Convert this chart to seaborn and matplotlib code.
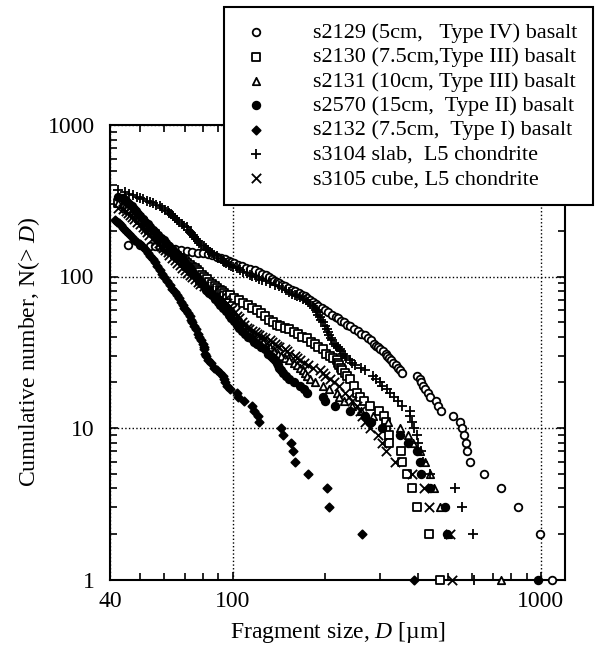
import matplotlib
matplotlib.use("Agg")
import matplotlib.pyplot as plt
import seaborn as sns

# cumulative number N(>D) vs fragment size D [um] as (D, N)
s2129 = [(45.6, 162), (50, 161), (54, 159), (56, 158), (58, 157), (60, 155), (62, 154), (65, 152), (68, 150),
         (71, 148), (74, 146), (77, 144), (80, 143), (83, 140), (86, 138), (89, 135), (92, 132), (94.5, 130),
         (97, 127), (99, 124), (101, 122), (104, 119), (107, 117), (110.5, 114), (114, 112), (118, 110),
         (122, 107), (125, 104), (128, 102), (131, 99), (134, 97), (136.5, 94), (139, 92), (142, 90), (145, 88),
         (148, 86), (151, 84), (155.5, 82), (160, 80), (164, 78), (168, 76), (171.5, 74), (175, 72), (178.5, 70),
         (182, 68), (186, 66), (190, 64), (194.5, 62), (199, 60), (204.5, 58), (210, 56), (216, 54), (220, 53),
         (225, 51), (230, 50), (235, 48), (240, 47), (247, 45), (255, 44), (262, 42), (270, 41), (276, 39),
         (282, 38), (287, 36), (292, 35), (296, 34), (300, 33), (307, 32), (314, 31), (318, 30), (322, 29),
         (327, 28), (331, 27), (338, 26), (345, 25), (350, 24), (356, 23), (396, 22), (405, 21), (410, 20),
         (415, 19), (420, 18), (430, 17), (436, 16), (456, 15), (463, 14), (474, 13), (518, 12), (546, 11),
         (554, 10), (562, 9), (572, 8), (575, 7), (588, 6), (653, 5), (742, 4), (847, 3), (993, 2), (1086, 1)]

s2130 = [(42.5, 305), (44, 300), (45, 293), (45.6, 287), (46.3, 280), (46.9, 273), (47.5, 267), (48.3, 258),
         (49, 250), (49.5, 243), (50, 236), (51, 228), (52, 220), (52.8, 211), (53.7, 203), (54.8, 196),
         (56, 190), (57, 182), (58, 175), (59, 168), (60, 162), (61.2, 156), (62.4, 150), (63.7, 145), (65, 140),
         (66.2, 136), (67.3, 133), (68.6, 129), (70, 126), (71.2, 123), (72.5, 120), (74, 116), (75.5, 113),
         (76.7, 110), (78, 107), (79.5, 103), (81, 100), (82.5, 96), (84, 92), (85.8, 89), (87.5, 87), (89, 84),
         (90.7, 82), (92.4, 80), (94, 78), (96, 76), (97.8, 75), (101, 72), (105, 70), (108.5, 67), (112, 65),
         (116, 62), (120, 60), (123.5, 57), (127, 55), (131, 52), (135, 50), (139, 48), (143, 47), (148, 46),
         (153, 45), (158, 43), (163, 42), (168, 40), (174, 39), (180, 37), (185, 36), (190, 34), (196, 33),
         (201, 31), (207, 30), (212, 29), (218, 28), (220, 27), (222, 26), (224.5, 25), (227, 24), (231, 23),
         (235, 22), (240, 21), (247, 19), (253, 17), (260, 16), (268, 15), (280, 14), (298, 13), (310, 12),
         (314, 11), (316, 10), (321, 9), (323, 8), (351, 7), (356, 6), (368, 5), (381, 4), (396, 3), (433, 2),
         (470, 1)]

s2131 = [(42.5, 305), (44, 300), (44.7, 292), (45.5, 285), (46.2, 276), (47, 268), (47.7, 259), (48.5, 250),
         (49.2, 242), (50, 235), (51, 226), (52, 218), (53, 210), (54, 202), (55, 195), (56, 187), (57.2, 179),
         (58.5, 172), (59.7, 165), (61, 158), (62.2, 152), (63.5, 146), (64.7, 140), (66, 134), (67.5, 128),
         (69, 123), (70.5, 118), (72, 113), (73.5, 108), (75, 104), (76.5, 99), (78, 95), (79.7, 91), (81.5, 88),
         (83.2, 84), (85, 81), (86.5, 77), (88, 74), (90, 71), (92, 68), (94, 65), (96, 62), (98, 59), (100, 57),
         (102, 54), (104, 52), (106.5, 50), (109, 48), (111.5, 46), (114, 44), (117, 42), (120, 40), (123, 38),
         (126, 37), (129, 35), (132, 34), (136, 32), (140, 31), (144, 30), (148, 29), (153, 28), (158, 27),
         (162, 26), (166, 25), (169, 24), (172, 23), (175, 22), (178, 21), (185, 20), (196, 19), (205, 18),
         (218, 17), (222, 16), (230, 15), (245, 14), (262, 13), (285, 12), (320, 11), (349, 10), (370, 9),
         (385, 8), (405, 7), (420, 6), (437, 5), (450, 4), (470, 3), (500, 2), (744, 1)]

s2570 = [(42.5, 335), (44, 330), (44.7, 320), (45.5, 310), (46.2, 300), (47, 290), (47.7, 280), (48.5, 270),
         (49.2, 260), (50, 250), (51, 240), (52, 230), (53, 221), (54, 212), (55, 204), (56, 196), (57.2, 188),
         (58.5, 180), (59.7, 173), (61, 166), (62.2, 159), (63.5, 152), (64.7, 146), (66, 140), (67.5, 134),
         (69, 128), (70.2, 123), (71.5, 118), (72.7, 113), (74, 108), (75.2, 103), (76.5, 99), (78, 94),
         (79.5, 90), (80.7, 86), (82, 82), (84, 78), (86, 75), (87.7, 71), (89.5, 68), (91.2, 65), (93, 62),
         (95, 59), (97, 56), (99, 53), (101, 51), (103, 48), (105, 46), (107.5, 44), (110, 42), (112.5, 40),
         (115, 39), (117.5, 37), (120, 36), (123.5, 34), (127, 33), (130, 31), (133, 30), (135, 29), (137, 28),
         (139, 27), (140, 26), (141, 25), (143.5, 24), (146, 23), (149, 22), (152, 21), (158, 20), (165, 19),
         (170, 18), (175, 17), (196, 16), (199, 15), (215, 14), (240, 13), (270, 12), (282, 11), (305, 10),
         (349, 9), (370, 8), (396, 7), (405, 6), (410, 5), (439, 4), (490, 3), (495, 2), (978, 1)]

s2132 = [(41.5, 235), (42.3, 230), (42.9, 224), (43.5, 218), (44, 210), (44.6, 203), (45.3, 196), (46, 190),
         (47, 182), (48, 175), (49, 169), (50, 163), (51, 157), (52, 151), (53, 144), (54, 137), (55, 131),
         (56, 125), (57, 117), (58, 110), (59, 104), (60, 99), (61.2, 93), (62.5, 88), (63.7, 83), (65, 79),
         (66, 75), (67, 72), (68, 68), (69, 65), (69.7, 62), (70.5, 60), (71.5, 57), (72.5, 55), (73.2, 52),
         (74, 50), (75, 47), (76, 45), (77, 42), (78, 40), (79, 38), (80, 36), (80.5, 34), (81, 33), (81.5, 31),
         (82, 30), (83.5, 28), (85, 27), (87, 25), (89, 24), (91, 23), (93, 22), (93.8, 21), (94.5, 20),
         (96, 19), (98, 18), (103, 17), (104, 16), (109, 15), (116, 14), (117, 13), (121, 12), (122, 11),
         (144, 10), (146, 9), (155, 8), (157, 7), (160, 6), (176, 5), (202, 4), (206, 3), (264, 2), (387, 1)]

s3104 = [(42.5, 370), (44.6, 361), (46, 352), (47.5, 344), (48.8, 337), (50, 330), (51.3, 323), (52.6, 317),
         (53.8, 311), (55, 307), (56.5, 298), (58, 290), (59.2, 282), (60.5, 275), (61.5, 270), (62.4, 264),
         (63.2, 257), (64, 250), (65, 243), (66, 236), (67.2, 229), (68.5, 222), (69.8, 216), (70.9, 211),
         (71.8, 204), (72.5, 198), (73.4, 193), (74.2, 188), (75, 182), (76, 177), (77, 172), (78, 167),
         (79.2, 162), (80.5, 158), (81.8, 154), (83, 150), (84.5, 146), (86, 143), (87.3, 139), (88.7, 136),
         (90, 133), (91.5, 130), (92.8, 127), (94, 125), (95.5, 122), (97, 120), (98.5, 118), (100, 116),
         (103, 113), (106, 110), (108.5, 107), (111, 105), (113.5, 103), (116, 101), (119, 99), (122, 97),
         (125, 95), (128, 93), (132, 90), (137, 88), (141, 86), (145, 84), (149, 81), (153, 79), (156, 77),
         (159, 76), (162, 74), (165, 73), (169, 71), (173, 70), (176, 68), (179, 66), (182, 64), (185, 62),
         (186.5, 60), (188, 58), (190, 56), (192, 54), (194, 52), (196, 50), (199, 47), (202, 45), (204, 43),
         (206, 41), (208.5, 39), (211, 38), (214, 36), (217, 35), (220, 34), (223, 33), (225.5, 32), (228, 31),
         (231, 30), (234, 29), (240, 28), (245, 27), (249, 26), (262, 25), (270, 24), (285, 22), (292, 21),
         (300, 20), (306, 19), (318, 18), (325, 17), (335, 16), (345, 15), (356, 14), (376, 13), (378, 12),
         (382, 11), (388, 10), (396, 9), (400, 8), (408, 7), (415, 6), (436, 5), (526, 4), (555, 3), (603, 2),
         (606, 1)]

s3105 = [(42.5, 285), (44, 280), (45, 270), (45.6, 262), (46.3, 254), (47.1, 246), (48, 238), (49, 230),
         (50, 222), (51, 213), (52, 205), (52.8, 196), (53.7, 188), (55, 180), (56.5, 172), (57.5, 166),
         (58.5, 160), (59.5, 155), (60.5, 150), (61.5, 145), (62.4, 139), (63.7, 133), (65, 128), (66.2, 123),
         (67.5, 119), (68.7, 114), (70, 110), (71.2, 106), (72.5, 103), (74, 99), (75.5, 96), (77, 92),
         (78.5, 89), (81, 86), (84, 82), (86.5, 79), (89, 76), (91.5, 73), (94, 70), (96, 67), (98, 64),
         (99.7, 61), (101.5, 58), (103, 55), (105, 53), (107, 50), (109, 48), (111, 46), (113, 45), (115.5, 44),
         (118, 43), (120, 42), (122, 41), (124.5, 40), (127, 39), (132, 38), (134.5, 37), (137, 36), (139.5, 35),
         (142, 34), (147.5, 33), (150, 32), (153, 31), (159, 30), (162, 29), (165, 28), (171, 27), (176, 26),
         (182, 25), (192, 24), (196, 23), (200, 22), (207, 21), (214, 20), (222, 19), (231, 17), (238, 16),
         (244, 15), (254, 14), (259, 13), (264, 12), (270, 11), (279, 10), (296, 9), (305, 8), (316, 7),
         (336, 6), (381, 5), (417, 4), (433, 3), (507, 2), (514, 1)]

labels = [
    "s2129 (5cm,   Type IV) basalt",
    "s2130 (7.5cm,Type III) basalt",
    "s2131 (10cm, Type III) basalt",
    "s2570 (15cm,  Type II) basalt",
    "s2132 (7.5cm,  Type I) basalt",
    "s3104 slab,  L5 chondrite",
    "s3105 cube, L5 chondrite",
]

sns.set_theme(style="ticks")
plt.rcParams["font.family"] = ["Liberation Serif", "DejaVu Serif"]
plt.rcParams["mathtext.fontset"] = "custom"
plt.rcParams["mathtext.rm"] = "Liberation Serif"
plt.rcParams["mathtext.it"] = "Liberation Serif:italic"
for k in ["text.color", "axes.labelcolor", "xtick.color", "ytick.color", "axes.edgecolor"]:
    plt.rcParams[k] = "black"

fig = plt.figure(figsize=(5.95, 6.6), dpi=100)
ax = fig.add_axes([110 / 595, 1 - 579.5 / 660, 455 / 595, 454.5 / 660])

# (label, data, marker, fill, size)
series = [
    (labels[0], s2129, "o", "white", 30),
    (labels[1], s2130, "s", "white", 28),
    (labels[2], s2131, "^", "white", 28),
    (labels[3], s2570, "o", "black", 30),
    (labels[4], s2132, "D", "black", 18),
    (labels[5], s3104, "+", "black", 60),
    (labels[6], s3105, "x", "black", 45),
]

for lab, pts, m, fc, s in series:
    d, n = zip(*pts)
    if m in ("+", "x"):
        sns.scatterplot(x=list(d), y=list(n), marker=m, s=s, color="black", linewidth=1.3,
                        label=lab, ax=ax, clip_on=False, zorder=3)
    else:
        sns.scatterplot(x=list(d), y=list(n), marker=m, s=s, color=fc, edgecolor="black", linewidth=1.3,
                        label=lab, ax=ax, clip_on=False, zorder=3)

ax.set_xscale("log")
ax.set_yscale("log")
ax.set_xlim(40, 1200)
ax.set_ylim(1, 1000)

ax.set_xticks([40, 100, 1000])
ax.set_xticklabels(["40", "100", "1000"])
ax.set_yticks([1, 10, 100, 1000])
ax.set_yticklabels(["1", "10", "100", "1000"])
ax.tick_params(which="both", direction="in", top=True, right=True, labelsize=17)
ax.tick_params(which="major", length=6, width=1.2, pad=8)
ax.tick_params(which="minor", length=5, width=1.2)
ax.tick_params(axis="y", which="major", pad=11)

ax.grid(True, which="major", linestyle=":", color="black", linewidth=1.0)
for sp in ax.spines.values():
    sp.set_linewidth(1.5)

ax.set_xlabel("Fragment size, $D$ [µm]", fontsize=17, labelpad=6)
ax.set_ylabel("Cumulative number, N(> $D$)", fontsize=17, labelpad=4)

handles, labs = ax.get_legend_handles_labels()
ax.get_legend().remove()
leg = fig.legend(handles, labs, loc="upper right", bbox_to_anchor=(593 / 595, 1 - 7 / 660),
                 borderaxespad=0, frameon=True, fancybox=False, fontsize=16, handletextpad=1.8,
                 borderpad=0.7, labelspacing=0.17, handlelength=1.5)
leg.get_frame().set_edgecolor("black")
leg.get_frame().set_linewidth(1.5)
leg.get_frame().set_alpha(1)
leg.set_zorder(10)

fig.savefig("out.png", dpi=100)
